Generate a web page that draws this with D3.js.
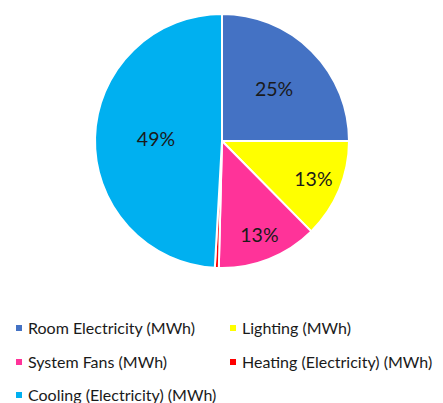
<!DOCTYPE html>
<html>
<head>
<meta charset="utf-8">
<script src="https://cdn.jsdelivr.net/npm/d3@7"></script>
<style>
  html, body { margin: 0; padding: 0; background: #fff; }
  svg { display: block; }
  text { font-family: Lato, "Open Sans", sans-serif; fill: #1a1a1a; }
</style>
</head>
<body>
<svg id="chart" width="443" height="403"></svg>
<script>
// Energy use breakdown, share of total (%)
const categories = [
  "Room Electricity (MWh)",
  "Lighting (MWh)",
  "System Fans (MWh)",
  "Heating (Electricity) (MWh)",
  "Cooling (Electricity) (MWh)"
];
const shares = [25.0, 12.6, 12.8, 0.5, 49.1];
const colors = ["#4472C4", "#FFFF00", "#FF3399", "#FF0000", "#00B0F0"];
// how far out (fraction of radius) each slice label sits; null = no label
const labelOffsets = [0.58, 0.78, 0.8, null, 0.52];

const svg = d3.select("#chart");
const cx = 222, cy = 141, radius = 127;

const pie = d3.pie().sort(null).value(d => d.value);
const data = categories.map((c, i) => ({ name: c, value: shares[i], color: colors[i], off: labelOffsets[i] }));
const arcs = pie(data);
const arc = d3.arc().innerRadius(0).outerRadius(radius);

const g = svg.append("g").attr("transform", `translate(${cx},${cy})`);
g.selectAll("path.slice")
  .data(arcs)
  .join("path")
  .attr("class", "slice")
  .attr("d", arc)
  .attr("fill", d => d.data.color)
  .attr("stroke", "#fff")
  .attr("stroke-width", 2)
  .attr("stroke-linejoin", "round");

g.selectAll("text.pct")
  .data(arcs.filter(d => d.data.off !== null))
  .join("text")
  .attr("class", "pct")
  .attr("transform", d => {
    const r = radius * d.data.off;
    const la = d3.arc().innerRadius(r).outerRadius(r);
    const [x, y] = la.centroid(d);
    return `translate(${x},${y})`;
  })
  .attr("text-anchor", "middle")
  .attr("dy", "0.35em")
  .style("font-size", "19.5px")
  .text(d => d3.format(".0f")(d.data.value) + "%");

// legend: two columns, three rows
const legend = svg.append("g");
const colX = [16, 230], rowY = [328, 362, 395];
const items = legend.selectAll("g.item")
  .data(data)
  .join("g")
  .attr("class", "item")
  .attr("transform", (d, i) => `translate(${colX[i % 2]},${rowY[Math.floor(i / 2)]})`);
items.append("rect")
  .attr("x", 0).attr("y", -3)
  .attr("width", 6).attr("height", 6)
  .attr("fill", d => d.color);
items.append("text")
  .attr("x", 12)
  .attr("dy", "0.35em")
  .style("font-size", "16px")
  .text(d => d.name);
</script>
</body>
</html>
